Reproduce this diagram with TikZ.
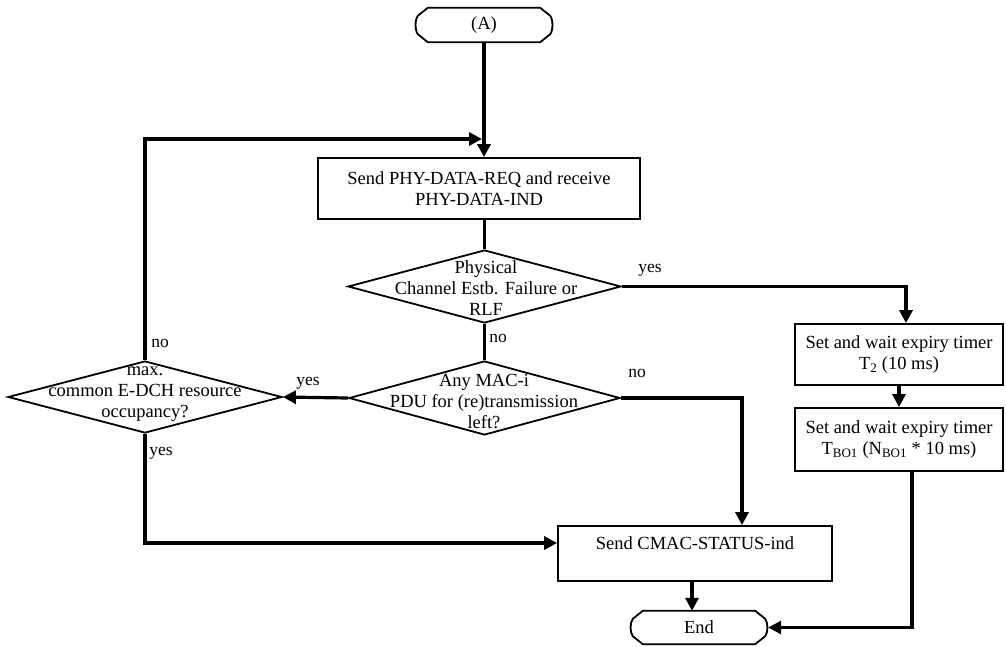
\documentclass[tikz,border=0pt]{standalone}
\usepackage{fontspec}
\setmainfont{Liberation Serif}
\usetikzlibrary{arrows.meta,shapes.geometric,calc}
\newcommand{\termoutline}[1]{%
  \draw[line width=1.8pt,line join=round]
    ($(#1.north east)+(-13,0)$) -- ($(#1.north east)+(-3,8)$)
    .. controls ($(#1.north east)+(0,12)$) and ($(#1.south east)+(0,-12)$) .. ($(#1.south east)+(-3,-8)$)
    -- ($(#1.south east)+(-13,0)$) -- ($(#1.south west)+(13,0)$)
    -- ($(#1.south west)+(3,-8)$)
    .. controls ($(#1.south west)+(0,-12)$) and ($(#1.north west)+(0,12)$) .. ($(#1.north west)+(3,8)$)
    -- ($(#1.north west)+(13,0)$) -- cycle;}
\begin{document}
\begin{tikzpicture}[x=1pt,y=-1pt,
  txt/.style={font=\fontsize{18.5}{21}\selectfont,align=center},
  lbl/.style={font=\fontsize{17.5}{20}\selectfont,inner sep=0pt},
  procbox/.style={draw,line width=1.8pt,rectangle,inner sep=0pt,txt},
  term/.style={rectangle,inner sep=0pt,txt},
  dia/.style={draw,line width=1.8pt,diamond,inner sep=0pt},
  conn/.style={line width=3.2pt},
  arr/.style={conn,-{Triangle[length=13pt,width=13pt]}}
]
\useasboundingbox (0,0) rectangle (1006,646);
% nodes
\node[term,minimum width=138pt,minimum height=34pt] (A) at (484,25) {(A)};
\termoutline{A}
\node[procbox,minimum width=322pt,minimum height=61pt] (box1) at (479,188.5) {Send PHY-DATA-REQ and receive\\PHY-DATA-IND};
\node[dia,minimum width=273pt,minimum height=73pt] (d1) at (484.5,286.5) {};
\node[txt] (t1) at (486,288) {Physical\\Channel Estb. Failure or\\RLF};
\node[dia,minimum width=271pt,minimum height=74pt] (d2) at (484.5,398) {};
\node[txt] (t2txt) at (484,401) {Any MAC-i\\PDU for (re)transmission\\left?};
\node[dia,minimum width=274pt,minimum height=72pt] (d3) at (145,397) {};
\node[txt] (t3) at (145,394) {max.\\common E-DCH resource\\occupancy?};
\node[procbox,minimum width=208pt,minimum height=61pt] (t2) at (899,354.5) {Set and wait expiry timer\\T\textsubscript{2} (10 ms)};
\node[procbox,minimum width=208pt,minimum height=63pt] (tbo) at (899,439.5) {Set and wait expiry timer\\T\textsubscript{BO1} (N\textsubscript{BO1} * 10 ms)};
\node[procbox,minimum width=274pt,minimum height=55pt] (cmac) at (695,553.5) {Send CMAC-STATUS-ind\\\mbox{}};
\node[term,minimum width=138pt,minimum height=33pt] (end) at (699,627.5) {End};
\termoutline{end}
\coordinate (j) at (482,139);
% labels
\node[lbl] (ly1) at (650,270) {yes};
\node[lbl] (ln1) at (498,338) {no};
\node[lbl] (ln2) at (637,373) {no};
\node[lbl] (ly2) at (308,383) {yes};
\node[lbl] (ln3) at (160,343) {no};
\node[lbl] (ly3) at (161,453) {yes};
% connectors
\draw[arr] (A.south) -- (A.south |- box1.north);
\draw[arr] (d3.north) |- (j);
\draw[conn] (d1.north |- box1.south) -- (d1.north);
\draw[arr] (d1.east) -| ([xshift=7pt]t2.north);
\draw[conn] (d1.south) -- (d2.north);
\draw[arr] (d2.east) -| ([xshift=47pt]cmac.north);
\draw[arr] (d2.west) -- (d3.east);
\draw[arr] (d3.south) |- ([yshift=10.5pt]cmac.west);
\draw[arr] (t2.south) -- (tbo.north);
\draw[arr] ([xshift=13pt]tbo.south) |- (end.east);
\draw[arr] ([xshift=-3pt]cmac.south) -- ([xshift=-3pt]cmac.south |- end.north);
\end{tikzpicture}
\end{document}
